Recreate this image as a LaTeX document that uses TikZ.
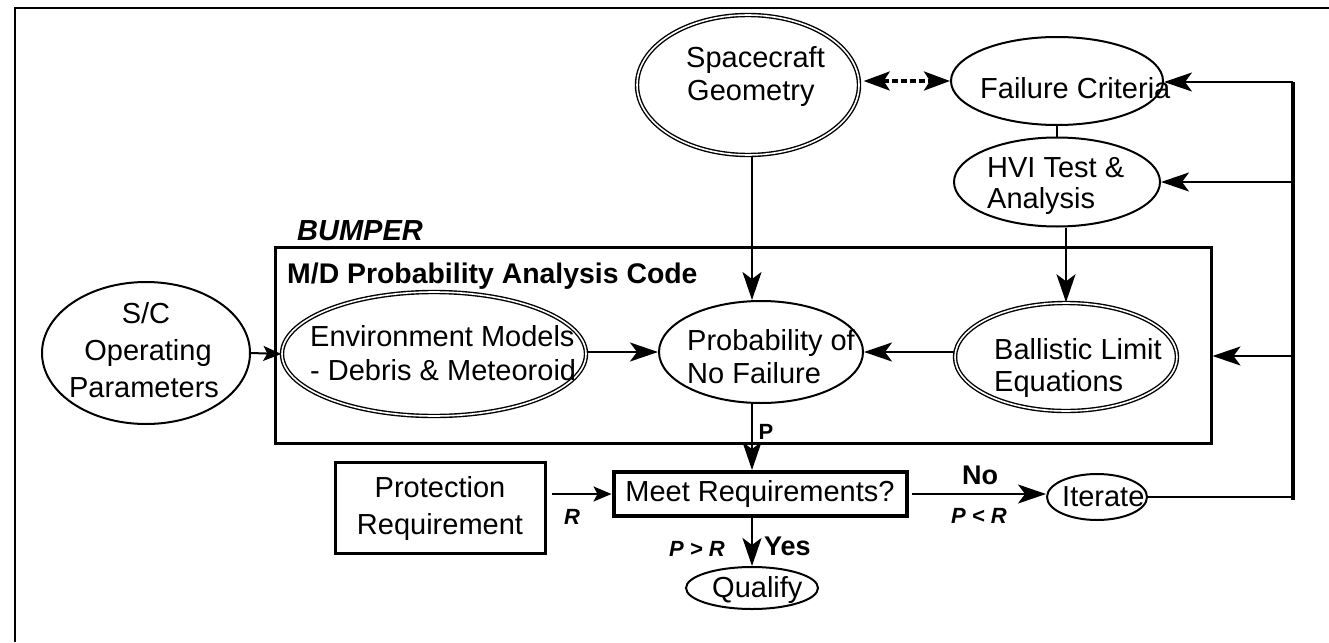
\documentclass[tikz,border=0pt]{standalone}
\usepackage{fontspec}
\setmainfont{Liberation Sans}
\usetikzlibrary{shapes.geometric,arrows.meta}
\begin{document}
\begin{tikzpicture}[x=1pt,y=-1pt,
  txt/.style={inner sep=0pt, font=\fontsize{29}{35}\selectfont, anchor=base west},
  ctxt/.style={txt, anchor=base},
  ell/.style={draw, ellipse, line width=2pt, inner sep=0pt},
  dell/.style={draw, ellipse, double, double distance=1.6pt, line width=1.4pt, inner sep=0pt},
  rbox/.style={draw, rectangle, inner sep=0pt, font=\fontsize{29}{37}\selectfont, align=center},
  arr/.style={line width=2pt, -{Stealth[length=28pt,width=19pt,inset=7pt]}},
  marr/.style={line width=2pt, -{Stealth[length=18pt,width=15pt,inset=4pt]}},
  darr/.style={line width=3.5pt, dash pattern=on 6pt off 3pt,
    {Stealth[length=26pt,width=19pt,inset=6pt]}-{Stealth[length=26pt,width=19pt,inset=6pt]}},
  lab/.style={inner sep=0pt, font=\fontsize{22}{24}\selectfont\bfseries\itshape},
  blab/.style={inner sep=0pt, font=\fontsize{27}{30}\selectfont\bfseries},
]
\useasboundingbox (0,0) rectangle (1329,642);
\fill[white] (0,0) rectangle (1329,642);
% outer frame (partly visible)
\draw[line width=2pt] (15,642) -- (15,8) -- (1329,8);

% main box
\node[draw, line width=3pt, minimum width=936pt, minimum height=196pt, inner sep=0pt] (box) at (743,345) {};
\node[inner sep=0pt, font=\fontsize{29}{35}\selectfont\bfseries\itshape, anchor=base west] (bumper) at (297,240) {BUMPER};
\node[inner sep=0pt, font=\fontsize{28.4}{35}\selectfont\bfseries, anchor=base west] (mdcode) at (287,283) {M/D Probability Analysis Code};

% ellipses
\node[dell, minimum width=222pt, minimum height=140pt] (sc) at (748,85) {};
\node[txt] (sct1) at (686,67) {Spacecraft};
\node[txt] (sct2) at (687,100) {Geometry};

\node[ell, minimum width=212pt, minimum height=88pt] (fc) at (1057,81) {};
\node[txt] (fct) at (980,98) {Failure Criteria};

\node[ell, minimum width=206pt, minimum height=89pt] (hvi) at (1057,182) {};
\node[txt] (hvit1) at (987,177) {HVI Test \&};
\node[txt] (hvit2) at (987,208) {Analysis};

\node[ell, minimum width=208pt, minimum height=142pt] (sco) at (146,353) {};
\node[ctxt] (scot1) at (146,323) {S/C};
\node[ctxt] (scot2) at (148,360) {Operating};
\node[ctxt] (scot3) at (144,397) {Parameters};

\node[dell, minimum width=304pt, minimum height=124pt] (env) at (434,354) {};
\node[txt] (envt1) at (310,346) {Environment Models};
\node[txt] (envt2) at (310,380) {- Debris \& Meteoroid};

\node[ell, minimum width=204pt, minimum height=102pt] (prob) at (761,352) {};
\node[txt] (probt1) at (687,350) {Probability of};
\node[txt] (probt2) at (687,383) {No Failure};

\node[dell, minimum width=222pt, minimum height=108pt] (bal) at (1066,357) {};
\node[txt] (balt1) at (994,359) {Ballistic Limit};
\node[txt] (balt2) at (994,391) {Equations};

% lower part
\node[rbox, line width=4pt, minimum width=293pt, minimum height=44pt] (meet) at (760,494) {Meet Requirements?};
\node[rbox, line width=3pt, minimum width=210pt, minimum height=91pt] (prot) at (440,508) {Protection\\Requirement};

\node[ell, minimum width=132pt, minimum height=42pt] (qual) at (752,588) {};
\node[txt] (qualt) at (712,597) {Qualify};

\node[ell, minimum width=100pt, minimum height=46pt] (it) at (1097,497) {};
\node[txt] (itt) at (1062,506) {Iterate};

% bus on the right
\coordinate (bt) at (1293,82);
\coordinate (bh) at (1293,182);
\coordinate (bm) at (1293,356);
\coordinate (bb) at (1293,500);
\draw[line width=4pt] (bt) -- (bb);
\draw[arr] (bt) -- (bt -| fc.east);
\draw[arr] (bh) -- (hvi.east);
\draw[arr] (bm) -- (bm -| box.east);
\draw[line width=2pt] (it.east) -- (it.east -| bb);

% connectors
\draw[darr] ([xshift=4pt]sc.east |- fc.west) -- (fc.west);
\draw[line width=2pt] (fc.south) -- (hvi.north);
\draw[arr] (hvi.south -| bal.north) -- (bal.north);
\draw[arr] (sc.south -| qual.north) -- (prob.north -| qual.north);
\draw[marr] (sco.east) -- (env.west);
\draw[arr] (prob.west -| env.east) -- (prob.west);
\draw[arr] (prob.east -| bal.west) -- (prob.east);
\draw[arr] (prob.south -| qual.north) -- (meet.north -| qual.north);
\draw[marr] ([xshift=5pt]prot.east |- meet.west) -- (meet.west);
\draw[arr] ([xshift=3pt]meet.east) -- (meet.east -| it.west);
\draw[arr] (meet.south -| qual.north) -- (qual.north);

% labels
\node[inner sep=0pt, font=\fontsize{22}{24}\selectfont\bfseries] (lp) at (766,432) {P};
\node[lab] (lr) at (572,517) {R};
\node[lab] (lpgr) at (697,549) {P > R};
\node[blab, anchor=west] (lyes) at (764,546) {Yes};
\node[blab] (lno) at (980,475) {No};
\node[lab] (lplr) at (979,516) {P < R};
\end{tikzpicture}
\end{document}
